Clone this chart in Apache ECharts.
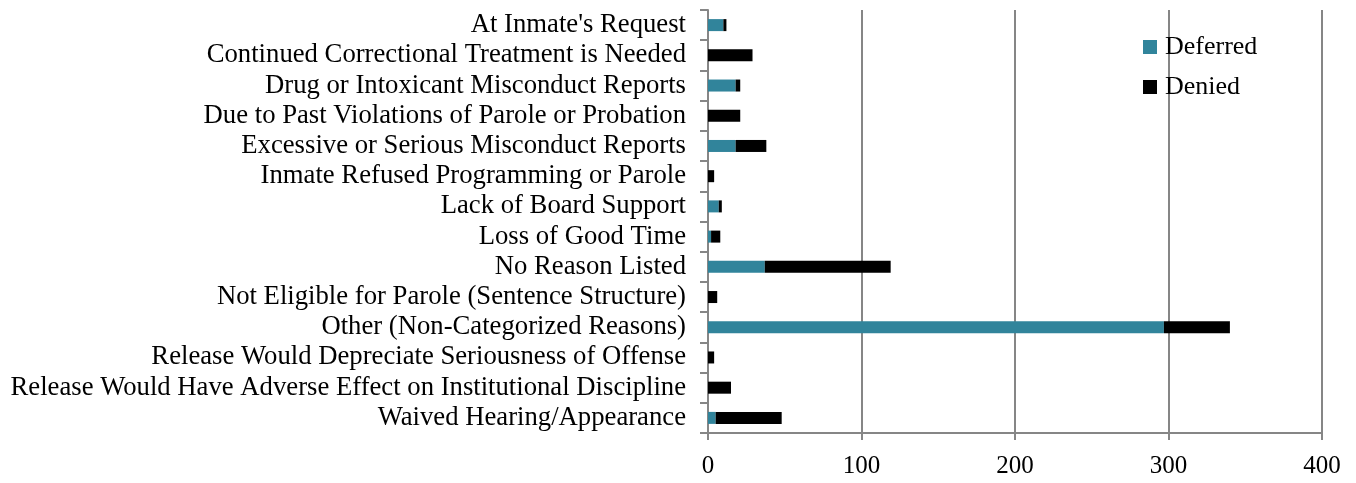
<!DOCTYPE html>
<html><head><meta charset="utf-8">
<script src="https://cdn.jsdelivr.net/npm/echarts@6/dist/echarts.min.js"></script>
<style>html,body{margin:0;padding:0;background:#fff}#c{width:1356px;height:483px}</style>
</head><body><div id="c"></div>
<script>
const categories = ["At Inmate's Request","Continued Correctional Treatment is Needed","Drug or Intoxicant Misconduct Reports","Due to Past Violations of Parole or Probation","Excessive or Serious Misconduct Reports","Inmate Refused Programming or Parole","Lack of Board Support","Loss of Good Time","No Reason Listed","Not Eligible for Parole (Sentence Structure)","Other (Non-Categorized Reasons)","Release Would Depreciate Seriousness of Offense","Release Would Have Adverse Effect on Institutional Discipline","Waived Hearing/Appearance"];
const deferred = [10,0,18,0,18,0,7,2,37,0,297,0,0,5];
const denied   = [2,29,3,21,20,4,2,6,82,6,43,4,15,43];
const xTicks = [0,100,200,300,400];

const font = 'Liberation Serif';
const chart = echarts.init(document.getElementById('c'));
chart.setOption({
  animation:false,
  textStyle:{fontFamily:font},
  grid:{left:708,right:34,top:10,bottom:50,containLabel:false},
  legend:{orient:'vertical',left:1138,top:29,itemWidth:14,itemHeight:14,itemGap:14,icon:'rect',
    textStyle:{fontFamily:font,fontSize:26,color:'#000',padding:[0,0,0,3]},data:['Deferred','Denied']},
  xAxis:{type:'value',min:xTicks[0],max:xTicks[xTicks.length-1],interval:100,
    axisLine:{show:true,lineStyle:{color:'#868686',width:2}},
    axisTick:{show:true,length:7,lineStyle:{color:'#868686',width:2}},
    splitLine:{show:true,lineStyle:{color:'#868686',width:2}},
    axisLabel:{fontFamily:font,fontSize:25,color:'#000',margin:21}},
  yAxis:{type:'category',inverse:true,data:categories,
    axisLine:{show:true,lineStyle:{color:'#868686',width:2}},
    axisTick:{show:true,length:8,lineStyle:{color:'#868686',width:2}},
    axisLabel:{fontFamily:font,fontSize:26.7,color:'#000',margin:22,interval:0}},
  series:[
    {name:'Deferred',type:'bar',stack:'a',data:deferred,barWidth:12,itemStyle:{color:'#31849B'}},
    {name:'Denied',type:'bar',stack:'a',data:denied,barWidth:12,itemStyle:{color:'#000000'}}
  ]
});
</script></body></html>
